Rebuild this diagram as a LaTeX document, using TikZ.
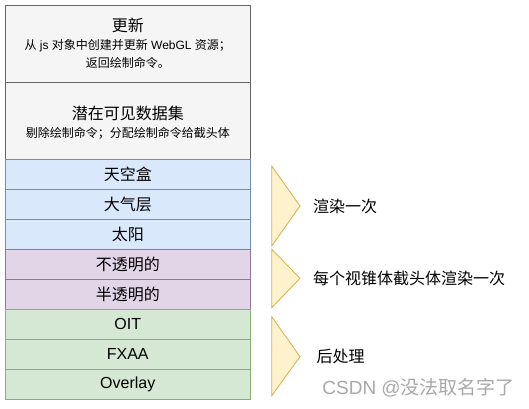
\documentclass[tikz,border=0pt]{standalone}
\usepackage{fontspec}
\setmainfont{Liberation Sans}
\newfontfamily\cjk{Noto Sans CJK SC}
\definecolor{grayfill}{HTML}{F5F5F5}
\definecolor{graydraw}{HTML}{666666}
\definecolor{bluefill}{HTML}{DAE8FC}
\definecolor{bluedraw}{HTML}{6C8EBF}
\definecolor{purpfill}{HTML}{E1D5E7}
\definecolor{purpdraw}{HTML}{9673A6}
\definecolor{greenfill}{HTML}{D5E8D4}
\definecolor{greendraw}{HTML}{82B366}
\definecolor{yelfill}{HTML}{FFF2CC}
\definecolor{yeldraw}{HTML}{D6B656}
\definecolor{wmark}{HTML}{A8A8A8}
\tikzset{
  box/.style={draw, line width=0.9pt, minimum width=245.5pt, inner sep=0pt, outer sep=0pt, anchor=north west},
  bigbox/.style={box, minimum height=77pt, fill=grayfill, draw=graydraw},
  rowbox/.style={box, minimum height=30pt, font=\fontsize{16}{19}\selectfont},
  bluebox/.style={rowbox, fill=bluefill, draw=bluedraw},
  purpbox/.style={rowbox, fill=purpfill, draw=purpdraw},
  greenbox/.style={rowbox, fill=greenfill, draw=greendraw},
  title/.style={font=\fontsize{16}{19}\selectfont\cjk, inner sep=0pt},
  sub/.style={font=\fontsize{12}{18}\selectfont, inner sep=0pt, align=center},
  tri/.style={fill=yelfill, draw=yeldraw, line width=0.9pt, line join=miter},
  side/.style={font=\fontsize{16}{19}\selectfont\cjk, anchor=west, inner sep=0pt}
}
\begin{document}
\begin{tikzpicture}[x=1pt,y=-1pt]
\useasboundingbox (0,0) rectangle (529,408);
\node[bigbox] (upd) at (5,5) {};
\node[bigbox] (pvs) at (5,82) {};
\node[bluebox] (sky) at (5,159.3) {\cjk 天空盒};
\node[bluebox] (atm) at (5,189.3) {\cjk 大气层};
\node[bluebox] (sun) at (5,219.3) {\cjk 太阳};
\node[purpbox] (opq) at (5,249.3) {\cjk 不透明的};
\node[purpbox] (trn) at (5,279.3) {\cjk 半透明的};
\node[greenbox] (oit) at (5,309.3) {OIT};
\node[greenbox] (fxaa) at (5,339.3) {FXAA};
\node[greenbox] (ovl) at (5,369.3) {Overlay};
% text of the top boxes
\node[title] (updt) at (127.75,25) {更新};
\node[sub] (upds) at (127.75,54) {{\cjk 从} js {\cjk 对象中创建并更新} WebGL {\cjk 资源；}\\{\cjk 返回绘制命令。}};
\node[title] (pvst) at (127.75,113) {潜在可见数据集};
\node[sub,font=\fontsize{12}{18}\selectfont\cjk] (pvss) at (127.75,133) {剔除绘制命令；分配绘制命令给截头体};
% triangles
\draw[tri] (271.7,166) -- (300,206) -- (271.7,246) -- cycle;
\draw[tri] (271.7,249.3) -- (300,278.3) -- (271.7,307.7) -- cycle;
\draw[tri] (271.7,316.7) -- (300,356.7) -- (271.7,395.7) -- cycle;
\node[side] (l1) at (313,206) {渲染一次};
\node[side] (l2) at (313,278.5) {每个视锥体截头体渲染一次};
\node[side] (l3) at (316.5,356) {后处理};
\node[anchor=east, inner sep=0pt, text=wmark, font=\fontsize{19}{22}\selectfont] (wm) at (515,388) {CSDN @{\cjk 没法取名字了}};
\end{tikzpicture}
\end{document}
